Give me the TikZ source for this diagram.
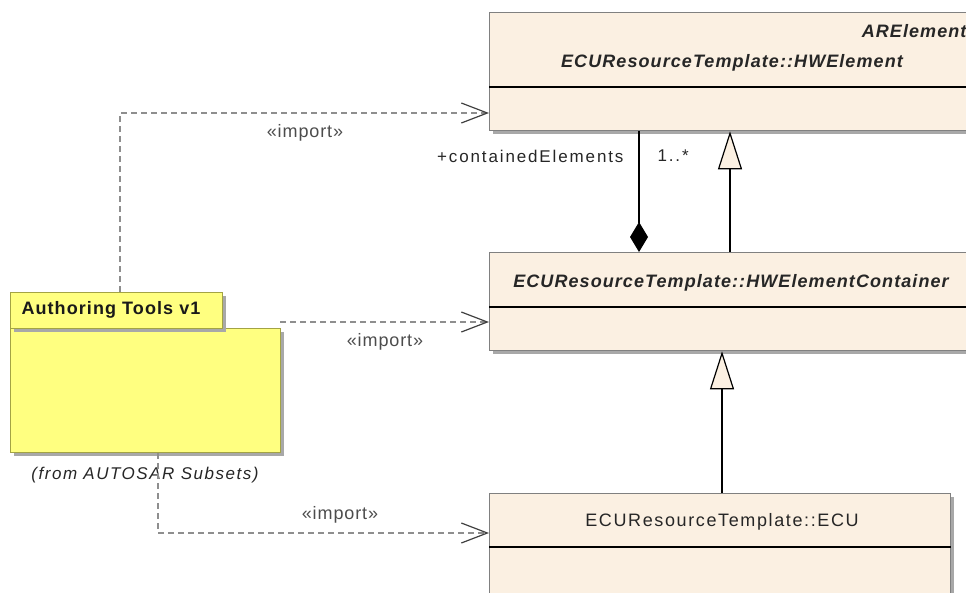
\documentclass[tikz,border=0pt]{standalone}
\usepackage{fontspec}
\setmainfont{Liberation Sans}
\usetikzlibrary{arrows.meta,positioning,shadows}
\definecolor{classfill}{HTML}{FBF0E2}
\definecolor{classline}{HTML}{808080}
\definecolor{pkgfill}{HTML}{FFFF80}
\definecolor{pkgline}{HTML}{A3A344}
\definecolor{importline}{HTML}{8E8E8E}
\definecolor{shadowgray}{HTML}{A8A8A8}
\tikzset{
  umlclass/.style={draw=classline, fill=classfill, line width=1.3pt, anchor=north west,
    inner sep=0pt, drop shadow={shadow xshift=3pt, shadow yshift=-3pt, fill=shadowgray, opacity=1}},
  pkgbox/.style={draw=pkgline, fill=pkgfill, line width=1.3pt, anchor=north west,
    inner sep=0pt, drop shadow={shadow xshift=3pt, shadow yshift=-3pt, fill=shadowgray, opacity=1}},
  classname/.style={font=\fontsize{18}{20}\selectfont\addfontfeature{LetterSpace=6}\bfseries\itshape, text=black!85},
  plainname/.style={font=\fontsize{18}{20}\selectfont\addfontfeature{LetterSpace=9}, text=black!85},
  rolelabel/.style={font=\fontsize{17}{18}\selectfont\addfontfeature{LetterSpace=11}, text=black!85},
  importlabel/.style={font=\fontsize{18}{18}\selectfont\addfontfeature{LetterSpace=5}, text=black!70},
  import/.style={draw=importline, line width=1.3pt, dash pattern=on 6pt off 4pt,
    -{Straight Barb[length=26pt, width=20pt, line width=1.2pt, color=black!75]}},
  generalize/.style={line width=1.3pt, -{Triangle[open, length=38pt, width=24pt, fill=classfill, line width=1.2pt]}},
  compose/.style={line width=1.3pt, {Diamond[length=30pt, width=18pt]}-},
  divider/.style={line width=1.3pt, draw=black}
}
\begin{document}
\begin{tikzpicture}[x=1pt, y=-1pt]
\useasboundingbox (0,0) rectangle (966,592);
\clip (0,0) rectangle (966,592);
% classes
\node[umlclass, minimum width=510pt, minimum height=118pt] (hwelem) at (489,12) {};
\draw[divider] ([yshift=-75pt]hwelem.north west) -- ([yshift=-75pt]hwelem.north east);
\node[classname, anchor=east] (arelem) at (970,31) {ARElement};
\node[classname] (hwelemname) at (732,63) {ECUResourceTemplate::HWElement};

\node[umlclass, minimum width=490pt, minimum height=98pt] (container) at (489,252) {};
\draw[divider] ([yshift=-55pt]container.north west) -- ([yshift=-55pt]container.north east);
\node[classname] (containername) at (731,283) {ECUResourceTemplate::HWElementContainer};

\node[umlclass, minimum width=461pt, minimum height=120pt] (ecu) at (489,493) {};
\draw[divider] ([yshift=-54pt]ecu.north west) -- ([yshift=-54pt]ecu.north east);
\node[plainname] (ecuname) at (722,522) {ECUResourceTemplate::ECU};

% package
\node[pkgbox, minimum width=270pt, minimum height=124pt] (pkg) at (10,328) {};
\node[pkgbox, minimum width=212pt, minimum height=36pt] (pkgtab) at (10,292) {};
\node[font=\fontsize{18}{20}\selectfont\bfseries\addfontfeature{LetterSpace=6}, anchor=west, text=black!90] (pkgname) at (18,310) {Authoring Tools v1};
\node[font=\fontsize{17}{18}\selectfont\itshape\addfontfeature{LetterSpace=9}, text=black!85] (pkgfrom) at (145,475) {(from AUTOSAR Subsets)};

% imports
\coordinate (imp1) at (120,113);
\coordinate (imp3) at (158,533);
\draw[import] (pkgtab.north -| imp1) |- (hwelem.west |- imp1);
\node[importlabel] at (305,133) {«import»};
\draw[import] (280,322) -- (container.west |- 0,322);
\node[importlabel] at (385,342) {«import»};
\draw[import] (pkg.south -| imp3) |- (ecu.west |- imp3);
\node[importlabel] at (340,515) {«import»};

% associations
\coordinate (comp) at (639,0);
\draw[compose] (container.north -| comp) -- (hwelem.south -| comp);
\node[rolelabel, anchor=east] (role) at (627,156) {+containedElements};
\node[rolelabel, anchor=west] (mult) at (654,156) {1..*};
\coordinate (gen1) at (730,0);
\draw[generalize] (container.north -| gen1) -- (hwelem.south -| gen1);
\coordinate (gen2) at (722,0);
\draw[generalize] (ecu.north -| gen2) -- (container.south -| gen2);
\end{tikzpicture}
\end{document}
